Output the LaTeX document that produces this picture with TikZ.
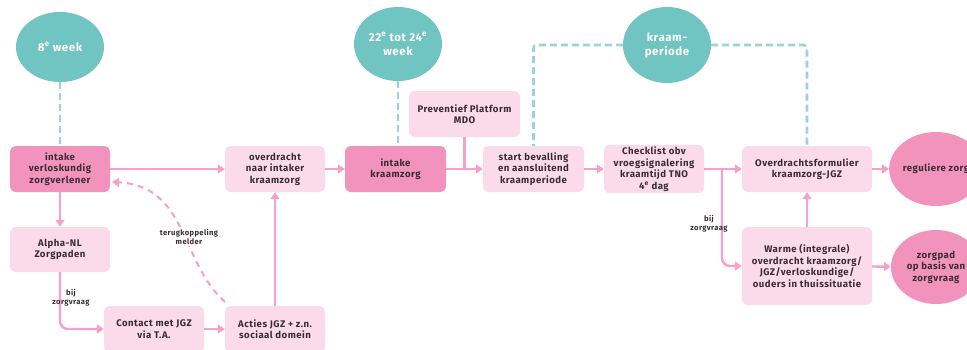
\documentclass[tikz,border=0pt]{standalone}
\usepackage{fontspec}
\setmainfont{Fira Sans}[LetterSpace=5]
\usetikzlibrary{arrows.meta,shapes.geometric}
\definecolor{darkpink}{HTML}{F293BE}
\definecolor{lightpink}{HTML}{FBDBEA}
\definecolor{linepink}{HTML}{F4A0C8}
\definecolor{teal}{HTML}{70C4C2}
\definecolor{dashteal}{HTML}{9AD5D3}
\definecolor{txt}{HTML}{3A2E34}
\tikzset{
  boxbase/.style={rectangle, rounded corners=6pt, align=center, inner sep=2pt,
    font=\bfseries\fontsize{9.6}{11.5}\selectfont, text=txt},
  darkbox/.style={boxbase, fill=darkpink},
  lightbox/.style={boxbase, fill=lightpink},
  tealcirc/.style={ellipse, fill=teal, inner sep=0pt, align=center, text=white,
    font=\bfseries\fontsize{11.5}{14}\selectfont},
  pinkcirc/.style={ellipse, fill=darkpink, inner sep=0pt, align=center, text=txt,
    font=\bfseries\fontsize{9.6}{11.5}\selectfont},
  flow/.style={draw=linepink, line width=2.4pt, -{Triangle[length=7pt,width=9pt]}},
  flowplain/.style={draw=linepink, line width=2.4pt},
  tealdash/.style={draw=dashteal, line width=2.6pt, dash pattern=on 7pt off 4pt},
  pinkdash/.style={draw=linepink, line width=2pt, dash pattern=on 6pt off 5pt, -{Triangle[length=7pt,width=9pt]}},
  smalllabel/.style={align=center, text=txt, font=\bfseries\fontsize{7.6}{9}\selectfont, inner sep=1pt}
}
\begin{document}
\begin{tikzpicture}[x=1pt,y=-1pt]
\useasboundingbox (0,0) rectangle (967,349);
% circles
\node[tealcirc, minimum width=88pt, minimum height=70pt] (c1) at (60,47) {8\textsuperscript{e} week};
\node[tealcirc, minimum width=88pt, minimum height=74pt] (c2) at (398,44) {22\textsuperscript{e} tot 24\textsuperscript{e}\\week};
\node[tealcirc, minimum width=88pt, minimum height=76pt] (c3) at (667,45) {kraam-\\periode};
% row 1
\node[darkbox, minimum width=100pt, minimum height=46pt] (iv) at (60,169) {intake\\verloskundig\\zorgverlener};
\node[lightbox, minimum width=100pt, minimum height=46pt] (ov) at (275,169) {overdracht\\naar intaker\\kraamzorg};
\node[darkbox, minimum width=101pt, minimum height=46pt] (ik) at (395.5,169) {intake\\kraamzorg};
\node[lightbox, minimum width=101pt, minimum height=46pt] (sb) at (533.5,169) {start bevalling\\en aansluitend\\kraamperiode};
\node[lightbox, minimum width=100pt, minimum height=46pt] (cl) at (654,169) {Checklist obv\\vroegsignalering\\kraamtijd TNO\\4\textsuperscript{e} dag};
\node[lightbox, minimum width=130pt, minimum height=46pt] (of) at (807,169) {Overdrachtsformulier\\kraamzorg-JGZ};
\node[pinkcirc, minimum width=90pt, minimum height=74pt] (rz) at (936,169) {reguliere zorg};
\node[lightbox, minimum width=111pt, minimum height=46pt] (mdo) at (464.5,114) {Preventief Platform\\MDO};
% row 2
\node[lightbox, minimum width=100pt, minimum height=45pt] (an) at (60,249.5) {Alpha-NL\\Zorgpaden};
\node[lightbox, minimum width=100pt, minimum height=46pt] (cj) at (154,329) {Contact met JGZ\\via T.A.};
\node[lightbox, minimum width=100pt, minimum height=46pt] (aj) at (275,329) {Acties JGZ + z.n.\\sociaal domein};
\node[lightbox, minimum width=130pt, minimum height=78pt] (wo) at (807,266) {Warme (integrale)\\overdracht kraamzorg/\\JGZ/verloskundige/\\ouders in thuissituatie};
\node[pinkcirc, minimum width=90pt, minimum height=74pt] (zp) at (936,267) {zorgpad\\op basis van\\zorgvraag};
% teal dashed connectors
\draw[tealdash] (c1.south) -- (iv.north);
\draw[tealdash] (c2.south) -- (c2.south |- ik.north);
\draw[tealdash, rounded corners=3pt] (c3.west) -| (sb.north);
\draw[tealdash, rounded corners=3pt] (c3.east) -| (of.north);
% solid flows
\draw[flow] (iv) -- (ov);
\draw[flow] (ov) -- (ik);
\draw[flow] (ik) -- (sb);
\draw[flowplain] (mdo.south) -- (mdo.south |- ik.east);
\draw[flow] (sb) -- (cl);
\draw[flow] (cl) -- (of);
\draw[flow] (of) -- (rz);
\draw[flow] (iv) -- (an);
\draw[flow, rounded corners=8pt] (an.south) |- (cj.west);
\draw[flow] (cj) -- (aj);
\draw[flow] (aj) -- (ov);
\draw[flow] (wo) -- (of);
\draw[flow] (wo) -- (zp);
\coordinate (br) at (722,169);
\draw[flow, rounded corners=8pt] (br) |- (wo.west);
% feedback dashed curve
\coordinate (fbs) at (225,302);
\coordinate (fbe) at (112,182);
\draw[pinkdash] (fbs) .. controls (180,262) and (188,186) .. (fbe);
% labels
\node[smalllabel, fill=white] (lt) at (189,237) {terugkoppeling\\melder};
\node[smalllabel] (lb1) at (71,298) {bij\\zorgvraag};
\node[smalllabel] (lb2) at (709,224) {bij\\zorgvraag};
\end{tikzpicture}
\end{document}
